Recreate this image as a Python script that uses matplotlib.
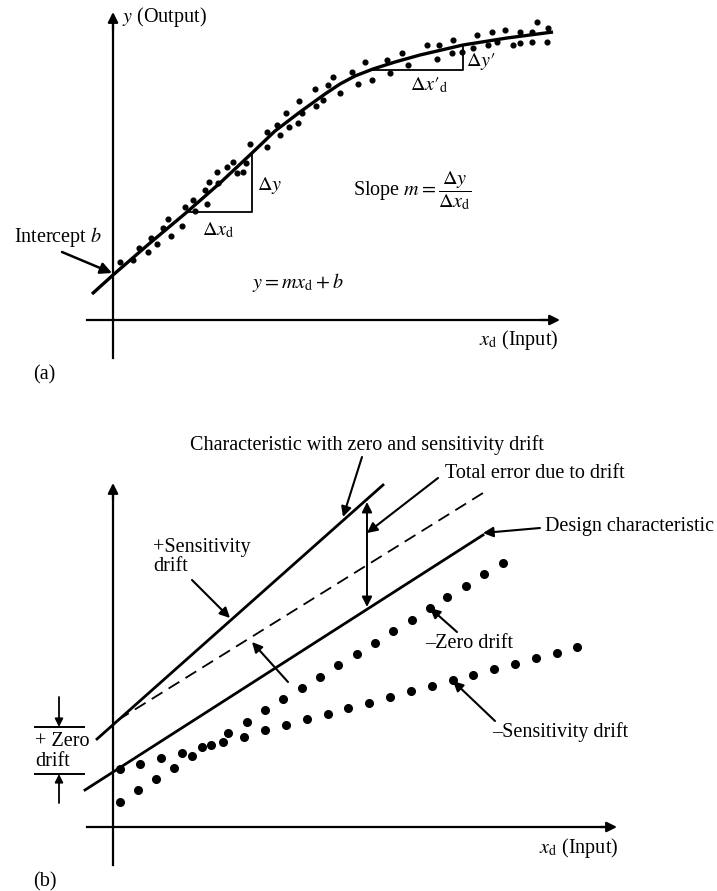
import numpy as np
import matplotlib
matplotlib.use('Agg')
from matplotlib import pyplot as plt

plt.rcParams['font.family'] = ['Liberation Serif', 'DejaVu Serif']
plt.rcParams['mathtext.fontset'] = 'stix'

# ---- panel (a): calibration curve, pixel-like coordinates ----
curve_x = [92, 113, 150, 187, 220, 252, 275, 300, 325, 340, 355, 373, 395, 420, 463, 507, 553]
curve_y = [294, 275, 243, 212, 183, 153, 131, 112, 94, 84, 76, 69, 62, 55, 45, 38, 32]

dots_a_x = [120, 133, 139, 148, 151, 157, 163, 168, 171, 182, 185, 193, 195, 207, 205,
            209, 217, 218, 227, 233, 237, 243, 246, 250, 267, 267, 277, 280, 286, 289,
            298, 299, 302, 315, 316, 323, 328, 333, 340, 352, 358, 365, 372, 387, 390,
            402, 408, 427, 437, 439, 452, 453, 462, 473, 477, 488, 492, 497, 505, 513,
            520, 520, 532, 532, 537, 547, 548]
dots_a_y = [262, 260, 248, 252, 238, 244, 228, 219, 236, 226, 207, 200, 211, 204, 190,
            182, 172, 183, 167, 162, 173, 172, 163, 144, 147, 132, 125, 135, 113, 127,
            123, 101, 113, 89, 106, 100, 85, 77, 93, 72, 84, 62, 80, 60, 73,
            53, 65, 45, 59, 45, 53, 40, 52, 48, 35, 45, 32, 42, 30, 45,
            32, 43, 32, 42, 22, 42, 28]

# ---- panel (b): drift lines ----
upper_x, upper_y = [97, 383], [739, 485]
dashed_x, dashed_y = [118, 483], [720, 493]
design_x, design_y = [85, 483], [790, 535]

zero_x = [120, 140, 161, 182, 202, 211, 228, 247, 265, 283, 302, 320, 338, 357, 375,
          393, 412, 430, 447, 466, 484, 503]
zero_y = [769, 764, 758, 753, 747, 745, 733, 722, 710, 699, 688, 677, 665, 654, 643,
          631, 620, 608, 597, 586, 574, 563]
sens_x = [120, 138, 156, 174, 192, 223, 244, 265, 286, 307, 328, 348, 369, 390, 411,
          432, 453, 473, 494, 515, 536, 557, 577]
sens_y = [802, 790, 779, 768, 756, 742, 737, 730, 725, 719, 714, 708, 703, 697, 691,
          686, 680, 675, 669, 664, 658, 653, 647]

fig = plt.figure(figsize=(7.17, 8.91), dpi=100)
ax = fig.add_axes([0, 0, 1, 1])
ax.set_xlim(0, 717)
ax.set_ylim(891, 0)
ax.axis('off')

k = 'black'
fs = 14.5

def arrow(x0, y0, x1, y1, lw=1.5, ms=15):
    ax.annotate('', xy=(x1, y1), xytext=(x0, y0),
                arrowprops=dict(arrowstyle='-|>', color=k, lw=lw,
                                mutation_scale=ms, shrinkA=0, shrinkB=0))

# axes of (a)
ax.plot([113, 113], [358, 20], color=k, lw=1.6)
arrow(113, 30, 113, 12, lw=1.6)
ax.plot([87, 550], [320, 320], color=k, lw=1.6)
arrow(540, 320, 560, 320, lw=1.6)

ax.plot(curve_x, curve_y, color=k, lw=2.4, solid_capstyle='butt', solid_joinstyle='round')
ax.plot(dots_a_x, dots_a_y, 'o', color=k, ms=3.4)

# slope triangles
ax.plot([187, 252, 252], [212, 212, 153], color=k, lw=1.3)
ax.plot([373, 463, 463], [70, 70, 45], color=k, lw=1.3)

arrow(62, 252, 112, 273, lw=1.8, ms=17)

ax.text(122, 17, r'$y$ (Output)', fontsize=fs, va='center')
ax.text(558, 340, r'$x_{\rm d}$ (Input)', fontsize=fs, va='center', ha='right')
ax.text(33, 375, '(a)', fontsize=fs, va='center')
ax.text(14, 237, r'Intercept $b$', fontsize=fs, va='center')
ax.text(252, 282, r'$y = mx_{\rm d} + b$', fontsize=fs, va='center')
ax.text(257, 185, r'$\Delta y$', fontsize=fs, va='center')
ax.text(202, 230, r'$\Delta x_{\rm d}$', fontsize=fs, va='center')
ax.text(466, 62, r'$\Delta y{\prime}$', fontsize=fs, va='center')
ax.text(410, 85, r'$\Delta x{\prime}_{\rm d}$', fontsize=fs, va='center')
ax.text(353, 191, r'Slope $m = \dfrac{\Delta y}{\Delta x_{\rm d}}$', fontsize=fs, va='center')

# axes of (b)
ax.plot([113, 113], [865, 492], color=k, lw=1.6)
arrow(113, 500, 113, 483, lw=1.6)
ax.plot([87, 605], [827, 827], color=k, lw=1.6)
arrow(600, 827, 617, 827, lw=1.6)

ax.plot(upper_x, upper_y, color=k, lw=2.0)
ax.plot(dashed_x, dashed_y, color=k, lw=1.3, ls=(0, (7, 4)))
ax.plot(design_x, design_y, color=k, lw=2.0)
ax.plot(zero_x, zero_y, 'o', color=k, ms=5.5)
ax.plot(sens_x, sens_y, 'o', color=k, ms=5.5)

# total error double arrow
ax.annotate('', xy=(367, 502), xytext=(367, 607),
            arrowprops=dict(arrowstyle='<|-|>', color=k, lw=1.4,
                            mutation_scale=15, shrinkA=0, shrinkB=0))

ax.text(190, 445, 'Characteristic with zero and sensitivity drift', fontsize=fs, va='center')
arrow(362, 457, 343, 517)
ax.text(445, 473, 'Total error due to drift', fontsize=fs, va='center')
arrow(438, 478, 367, 533)
ax.text(545, 527, 'Design characteristic', fontsize=fs, va='center')
arrow(540, 528, 483, 533)
ax.text(153, 557, '+Sensitivity\ndrift', fontsize=fs, va='center', linespacing=1.05)
arrow(192, 580, 230, 618)
arrow(288, 682, 252, 642)
ax.text(425, 643, '\u2013Zero drift', fontsize=fs, va='center')
arrow(457, 632, 430, 608)
ax.text(492, 732, '\u2013Sensitivity drift', fontsize=fs, va='center')
arrow(495, 721, 453, 681)

# zero drift bracket
ax.plot([35, 84], [727, 727], color=k, lw=1.4)
ax.plot([35, 84], [774, 774], color=k, lw=1.4)
arrow(59, 697, 59, 727, lw=1.3, ms=12)
arrow(59, 803, 59, 774, lw=1.3, ms=12)
ax.text(35, 742, '+ Zero', fontsize=fs, va='center')
ax.text(35, 762, 'drift', fontsize=fs, va='center')

ax.text(618, 848, r'$x_{\rm d}$ (Input)', fontsize=fs, va='center', ha='right')
ax.text(33, 882, '(b)', fontsize=fs, va='center')

fig.savefig('out.png', dpi=100)
